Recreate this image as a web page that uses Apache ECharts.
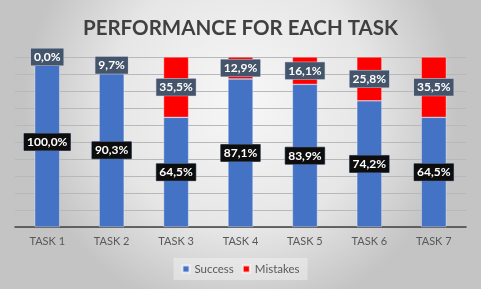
<!DOCTYPE html>
<html><head><meta charset="utf-8">
<script src="https://cdn.jsdelivr.net/npm/echarts@6/dist/echarts.min.js"></script>
<style>html,body{margin:0;padding:0;}#c{width:481px;height:289px;}</style>
</head><body><div id="c"></div>
<script>
const categories = ['TASK 1','TASK 2','TASK 3','TASK 4','TASK 5','TASK 6','TASK 7'];
const success = [100.0, 90.3, 64.5, 87.1, 83.9, 74.2, 64.5];
const mistakes = [0.0, 9.7, 35.5, 12.9, 16.1, 25.8, 35.5];
const fmt = p => p.value.toFixed(1).replace('.', ',') + '%';
const chart = echarts.init(document.getElementById('c'));
chart.setOption({
  backgroundColor: {type:'radial', x:0.5, y:0.35, r:0.75, colorStops:[{offset:0,color:'#f7f7f7'},{offset:0.6,color:'#e6e6e6'},{offset:1,color:'#c4c4c4'}]},
  title: {text:'PERFORMANCE FOR EACH TASK', left:'center', top:13,
    textStyle:{fontFamily:'Lato', fontWeight:'bold', fontSize:20.5, color:'#404040'}},
  grid: {left:15, right:15, top:57, bottom:62},
  legend: {bottom:9, left:'center', itemWidth:7, itemHeight:7, itemGap:8,
    backgroundColor:'rgba(255,255,255,0.35)', padding:[5,8],
    textStyle:{fontFamily:'Lato', fontSize:11.5, color:'#595959'}, icon:'rect',
    data:['Success','Mistakes']},
  xAxis: {type:'category', data:categories,
    axisLine:{lineStyle:{color:'#404040', width:1.5}}, axisTick:{show:false},
    axisLabel:{fontFamily:'Lato', fontSize:11, color:'#595959', margin:9}},
  yAxis: {type:'value', min:0, max:100, interval:10, axisLabel:{show:false},
    axisLine:{show:false}, axisTick:{show:false},
    splitLine:{lineStyle:{color:'#b8b8b8', width:1}}},
  series: [
    {name:'Success', type:'bar', stack:'t', data:success, barWidth:25,
      itemStyle:{color:'#4472C4', borderColor:'rgba(255,255,255,0.7)', borderWidth:0.5},
      label:{show:true, position:'inside', formatter:fmt, color:'#fff', fontFamily:'Lato', fontWeight:'bold', fontSize:12,
        backgroundColor:'#0d0d0d', borderColor:'#5a6e96', borderWidth:0.5, padding:[3,3,2,3]}},
    {name:'Mistakes', type:'bar', stack:'t', data:mistakes, barWidth:25,
      itemStyle:{color:'#FF0000', borderColor:'rgba(255,255,255,0.7)', borderWidth:0.5},
      label:{show:true, position:'inside', formatter:fmt, color:'#fff', fontFamily:'Lato', fontWeight:'bold', fontSize:12,
        backgroundColor:'#44546A', borderColor:'#c8cede', borderWidth:0.5, padding:[3,3,2,3]}}
  ]
});
</script></body></html>
